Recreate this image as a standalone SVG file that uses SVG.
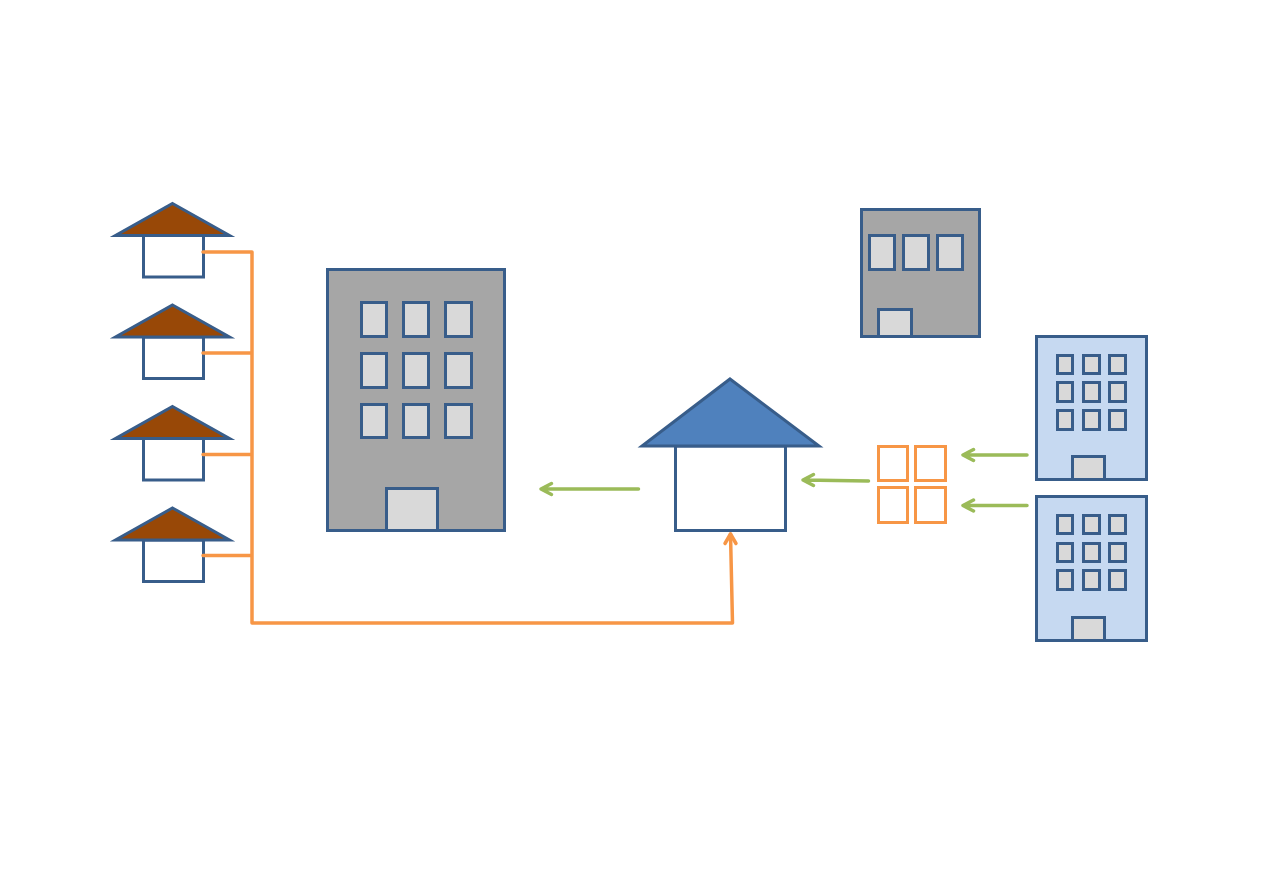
<svg xmlns="http://www.w3.org/2000/svg" width="1263" height="893" viewBox="0 0 1263 893">
<style>
.ln{stroke:#385d8a;stroke-width:3}
.body{fill:#fff}
.roof{fill:#984807;stroke-linejoin:miter}
.grey{fill:#a6a6a6}
.pale{fill:#c6d9f1}
.win{fill:#d9d9d9}
.cell{fill:#fff;stroke:#f79646;stroke-width:3}
.o{fill:none;stroke:#f79646;stroke-width:3.500;stroke-linecap:round;stroke-linejoin:round}
.g{fill:none;stroke:#9bbb59;stroke-width:3.500;stroke-linecap:round;stroke-linejoin:round}
</style>
<rect width="1263" height="893" fill="#fff"/>
<defs>
<g id="small-house">
<rect class="ln body" x="143.500" y="235.500" width="60" height="41.500"/>
<path class="ln roof" d="M172.500 203.500 L229.500 235.500 H115.500 Z" stroke-miterlimit="10"/>
</g>
</defs>
<g id="house-1"><use href="#small-house"/></g>
<g id="house-2"><use href="#small-house" y="101.500"/></g>
<g id="house-3"><use href="#small-house" y="203"/></g>
<g id="house-4"><use href="#small-house" y="304.500"/></g>
<g id="tower-large">
<rect class="ln grey" x="327.500" y="269.500" width="177" height="261"/>
<rect class="ln win" x="361.500" y="302.500" width="25" height="34"/>
<rect class="ln win" x="403.500" y="302.500" width="25" height="34"/>
<rect class="ln win" x="445.500" y="302.500" width="26" height="34"/>
<rect class="ln win" x="361.500" y="353.500" width="25" height="34"/>
<rect class="ln win" x="403.500" y="353.500" width="25" height="34"/>
<rect class="ln win" x="445.500" y="353.500" width="26" height="34"/>
<rect class="ln win" x="361.500" y="404.500" width="25" height="33"/>
<rect class="ln win" x="403.500" y="404.500" width="25" height="33"/>
<rect class="ln win" x="445.500" y="404.500" width="26" height="33"/>
<rect class="ln win" x="386.500" y="488.500" width="51" height="42"/>
</g>
<g id="office-low">
<rect class="ln grey" x="861.500" y="209.500" width="118" height="127"/>
<rect class="ln win" x="869.500" y="235.500" width="25" height="34"/>
<rect class="ln win" x="903.500" y="235.500" width="25" height="34"/>
<rect class="ln win" x="937.500" y="235.500" width="25" height="34"/>
<rect class="ln win" x="878.500" y="309.500" width="33" height="27"/>
</g>
<g id="main-house">
<rect class="ln body" x="675.500" y="446" width="110" height="84.500"/>
<path d="M730 379 L819 446 H642 Z" fill="#4f81bd" stroke="#385d8a" stroke-width="3" stroke-miterlimit="10"/>
</g>
<g id="tile-block">
<rect class="cell" x="878.500" y="446.500" width="29" height="34"/>
<rect class="cell" x="915.500" y="446.500" width="30" height="34"/>
<rect class="cell" x="878.500" y="487.500" width="29" height="35"/>
<rect class="cell" x="915.500" y="487.500" width="30" height="35"/>
</g>
<g id="tower-upper">
<rect class="ln pale" x="1036.500" y="336.500" width="110" height="143"/>
<rect class="ln win" x="1057.500" y="355.500" width="15" height="18"/>
<rect class="ln win" x="1083.500" y="355.500" width="16" height="18"/>
<rect class="ln win" x="1109.500" y="355.500" width="16" height="18"/>
<rect class="ln win" x="1057.500" y="382.500" width="15" height="19"/>
<rect class="ln win" x="1083.500" y="382.500" width="16" height="19"/>
<rect class="ln win" x="1109.500" y="382.500" width="16" height="19"/>
<rect class="ln win" x="1057.500" y="410.500" width="15" height="19"/>
<rect class="ln win" x="1083.500" y="410.500" width="16" height="19"/>
<rect class="ln win" x="1109.500" y="410.500" width="16" height="19"/>
<rect class="ln win" x="1072.500" y="456.500" width="32" height="23"/>
</g>
<g id="tower-lower">
<rect class="ln pale" x="1036.500" y="496.500" width="110" height="144"/>
<rect class="ln win" x="1057.500" y="515.500" width="15" height="18"/>
<rect class="ln win" x="1083.500" y="515.500" width="16" height="18"/>
<rect class="ln win" x="1109.500" y="515.500" width="16" height="18"/>
<rect class="ln win" x="1057.500" y="543.500" width="15" height="18"/>
<rect class="ln win" x="1083.500" y="543.500" width="16" height="18"/>
<rect class="ln win" x="1109.500" y="543.500" width="16" height="18"/>
<rect class="ln win" x="1057.500" y="570.500" width="15" height="19"/>
<rect class="ln win" x="1083.500" y="570.500" width="16" height="19"/>
<rect class="ln win" x="1109.500" y="570.500" width="16" height="19"/>
<rect class="ln win" x="1072.500" y="617.500" width="32" height="23"/>
</g>
<g id="connectors">
<path class="o" d="M203 252 H252 M203 353 H252 M203 454.500 H252 M203 555.500 H252 M252 252 V623 H732.500 L730.500 534"/>
<path class="o" d="M725 543.500 L730.500 534 L736 543.500"/>
<path class="g" d="M638.500 489 H541 M551.500 483.500 L541 489 L551.500 494.500"/>
<path class="g" d="M868.500 481 L803 480 M813.500 474.500 L803 480 L813.500 485.500"/>
<path class="g" d="M1027 455 H963 M973.500 449.500 L963 455 L973.500 460.500"/>
<path class="g" d="M1027 505.500 H963 M973.500 500 L963 505.500 L973.500 511"/>
</g>
</svg>
